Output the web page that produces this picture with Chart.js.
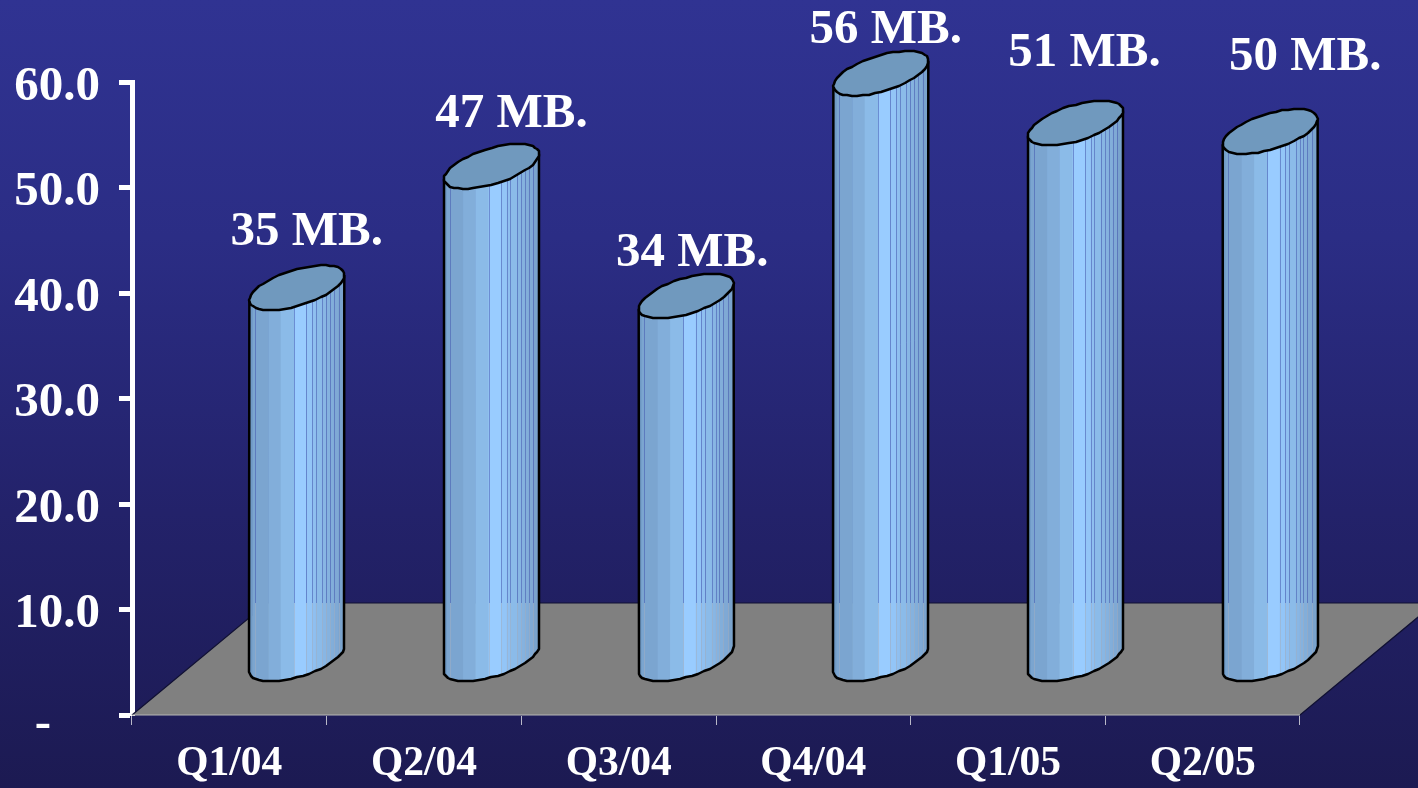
<!DOCTYPE html>
<html>
<head>
<meta charset="utf-8">
<title>Quarterly MB</title>
<script src="https://cdn.jsdelivr.net/npm/chart.js@4"></script>
<style>
  html, body { margin: 0; padding: 0; overflow: hidden; }
  body { background: linear-gradient(#303392 0%, #2b2d85 30%, #23226a 65%, #1c1a52 100%); }
  canvas { display: block; }
</style>
</head>
<body>
<canvas id="graphCanvas" width="1418" height="788"></canvas>
<script>
const quarters = ['Q1/04', 'Q2/04', 'Q3/04', 'Q4/04', 'Q1/05', 'Q2/05'];
const mbValues = [35.2, 46.7, 34.4, 55.5, 50.8, 50.0];
const barLabels = ['35 MB.', '47 MB.', '34 MB.', '56 MB.', '51 MB.', '50 MB.'];
const yTicks = [0, 10, 20, 30, 40, 50, 60];

const SERIF = '"Liberation Serif", serif';

// The floor runs back from the axis, columns stand half way along it
const DEPTH_X = 135, DEPTH_Y = 112;
const labelNudge = [[10, -55], [20, -52], [6, -43], [5, -43], [9, -70], [35, -74]];

// column facets: right edge of each band (0..1 across) and its colour
const bandEnds = [0.03, 0.2, 0.33, 0.47, 0.6, 0.66, 0.7, 0.77, 0.81, 0.85, 0.89, 0.94, 1];
const bandColors = ['#6f9ac6', '#7ba5d0', '#82aeda', '#8bbbe8', '#99ccff', '#93c5f7', '#8fbff0',
  '#8bbbe9', '#88b6e4', '#85b2df', '#82aeda', '#7fa9d5', '#7aa3cd'];
// bands that have a visible line on their left edge
const lineAt = [0.06, 0.47, 0.6, 0.66, 0.7, 0.77, 0.81, 0.85, 0.89, 0.94];

const TILT = Math.atan2(0.564, 0.825);

// point on the slanted circle of a column
function rimPoint(cx, cy, a, t) {
  return [cx + Math.cos(t) * a * 0.825 + Math.sin(t) * a * 0.564, cy - Math.sin(t) * DEPTH_Y * 0.2];
}

// angle on the front half of the rim for a fraction across the column
function frontAngle(frac) {
  return TILT + Math.PI + Math.acos(1 - 2 * frac);
}

const floorPlugin = {
  id: 'floor',
  beforeDatasetsDraw(chart) {
    const ctx = chart.ctx, area = chart.chartArea;
    ctx.save();
    ctx.beginPath();
    ctx.moveTo(area.left, area.bottom);
    ctx.lineTo(area.right, area.bottom);
    ctx.lineTo(area.right + DEPTH_X, area.bottom - DEPTH_Y);
    ctx.lineTo(area.left + DEPTH_X, area.bottom - DEPTH_Y);
    ctx.closePath();
    ctx.fillStyle = '#808080';
    ctx.fill();
    ctx.lineWidth = 1.2;
    ctx.strokeStyle = '#111133';
    ctx.beginPath();
    ctx.moveTo(area.left, area.bottom);
    ctx.lineTo(area.left + DEPTH_X, area.bottom - DEPTH_Y);
    ctx.lineTo(area.right + DEPTH_X, area.bottom - DEPTH_Y);
    ctx.lineTo(area.right, area.bottom);
    ctx.stroke();
    ctx.strokeStyle = '#b5b5b5';
    ctx.beginPath();
    ctx.moveTo(area.left, area.bottom);
    ctx.lineTo(area.right, area.bottom);
    ctx.stroke();
    ctx.restore();
  }
};

const columnPlugin = {
  id: 'columns',
  afterDatasetsDraw(chart) {
    const ctx = chart.ctx, area = chart.chartArea;
    const y = chart.scales.y;
    const floorBack = Math.round(area.bottom - DEPTH_Y);
    chart.getDatasetMeta(0).data.forEach((bar, i) => {
      const a = bar.width / 2;
      const cx = bar.x + DEPTH_X / 2;
      const cyBottom = y.getPixelForValue(0) - DEPTH_Y / 2;
      const cyTop = y.getPixelForValue(mbValues[i]) - DEPTH_Y / 2;
      const start = TILT + Math.PI;
      const n = 24;

      ctx.save();

      // shaded side, one band per facet
      bandEnds.forEach((end, b) => {
        const from = b === 0 ? 0 : bandEnds[b - 1];
        const steps = 4;
        ctx.beginPath();
        for (let s = 0; s <= steps; s++) {
          const p = rimPoint(cx, cyTop, a, frontAngle(from + (end - from) * s / steps));
          if (s === 0) ctx.moveTo(p[0], p[1]);
          else ctx.lineTo(p[0] + (s === steps ? 0.5 : 0), p[1]);
        }
        for (let s = steps; s >= 0; s--) {
          const p = rimPoint(cx, cyBottom, a, frontAngle(from + (end - from) * s / steps));
          ctx.lineTo(p[0] + (s === steps ? 0.5 : 0), p[1]);
        }
        ctx.closePath();
        ctx.fillStyle = bandColors[b];
        ctx.fill();
      });

      // facet lines are darker against the sky, pale over the floor
      lineAt.forEach(f => {
        const t = rimPoint(cx, cyTop, a, frontAngle(f));
        const u = rimPoint(cx, cyBottom, a, frontAngle(f));
        const lx = Math.round(t[0]) + 0.5;
        ctx.lineWidth = 1;
        ctx.strokeStyle = 'rgba(70,90,175,0.55)';
        ctx.beginPath();
        ctx.moveTo(lx, t[1]);
        ctx.lineTo(lx, floorBack);
        ctx.stroke();
        ctx.strokeStyle = 'rgba(160,175,195,0.55)';
        ctx.beginPath();
        ctx.moveTo(lx, floorBack);
        ctx.lineTo(lx, u[1]);
        ctx.stroke();
      });

      // outline of the side
      ctx.lineWidth = 2.5;
      ctx.lineJoin = 'round';
      ctx.strokeStyle = '#000';
      ctx.beginPath();
      const left = rimPoint(cx, cyTop, a, start);
      ctx.moveTo(left[0], left[1]);
      for (let s = 0; s <= n; s++) {
        const p = rimPoint(cx, cyBottom, a, start + s / n * Math.PI);
        ctx.lineTo(Math.round(p[0]), Math.round(p[1]));
      }
      const right = rimPoint(cx, cyTop, a, start + Math.PI);
      ctx.lineTo(right[0], right[1]);
      ctx.stroke();

      // top face
      ctx.beginPath();
      for (let s = 0; s < n * 2; s++) {
        const p = rimPoint(cx, cyTop, a, start + s / n * Math.PI);
        if (s === 0) ctx.moveTo(Math.round(p[0]), Math.round(p[1]));
        else ctx.lineTo(Math.round(p[0]), Math.round(p[1]));
      }
      ctx.closePath();
      ctx.fillStyle = '#7099be';
      ctx.fill();
      ctx.stroke();

      // value label
      ctx.fillStyle = '#ffffff';
      ctx.font = 'bold 49px ' + SERIF;
      ctx.textAlign = 'center';
      ctx.textBaseline = 'middle';
      ctx.fillText(barLabels[i], cx + labelNudge[i][0], cyTop + labelNudge[i][1]);
      ctx.restore();
    });
  }
};

new Chart(document.getElementById('graphCanvas'), {
  type: 'bar',
  data: {
    labels: quarters,
    datasets: [{
      label: 'MB',
      data: mbValues,
      backgroundColor: 'transparent',
      borderWidth: 0,
      barThickness: 95
    }]
  },
  options: {
    responsive: false,
    animation: false,
    devicePixelRatio: 1,
    layout: { padding: { top: 82, right: 118, left: 0, bottom: 0 } },
    plugins: { legend: { display: false }, tooltip: { enabled: false } },
    scales: {
      x: {
        afterFit(scale) { scale.height = 73; },
        border: { color: 'transparent' },
        grid: { offset: true, drawOnChartArea: false, tickLength: 10, tickColor: '#b9b9c8', tickWidth: 1 },
        ticks: {
          color: '#ffffff',
          padding: 14,
          maxRotation: 0,
          font: { family: SERIF, size: 41.5, weight: 'bold' }
        }
      },
      y: {
        min: 0,
        max: 60,
        afterFit(scale) { scale.width = 132; },
        afterBuildTicks(scale) { scale.ticks = yTicks.map(v => ({ value: v })); },
        border: { color: '#ffffff', width: 5 },
        grid: { drawOnChartArea: false, tickLength: 13, tickColor: '#ffffff', tickWidth: 5 },
        ticks: {
          color: '#ffffff',
          padding: 19,
          // empty lines push the labels a little under their tick marks
          font: { family: SERIF, size: 49, weight: 'bold', lineHeight: 0.2 },
          callback: v => v === 0 ? ['', '', '-\u00a0\u00a0\u00a0\u00a0'] : ['', v.toFixed(1)]
        }
      }
    }
  },
  plugins: [floorPlugin, columnPlugin]
});
</script>
</body>
</html>
